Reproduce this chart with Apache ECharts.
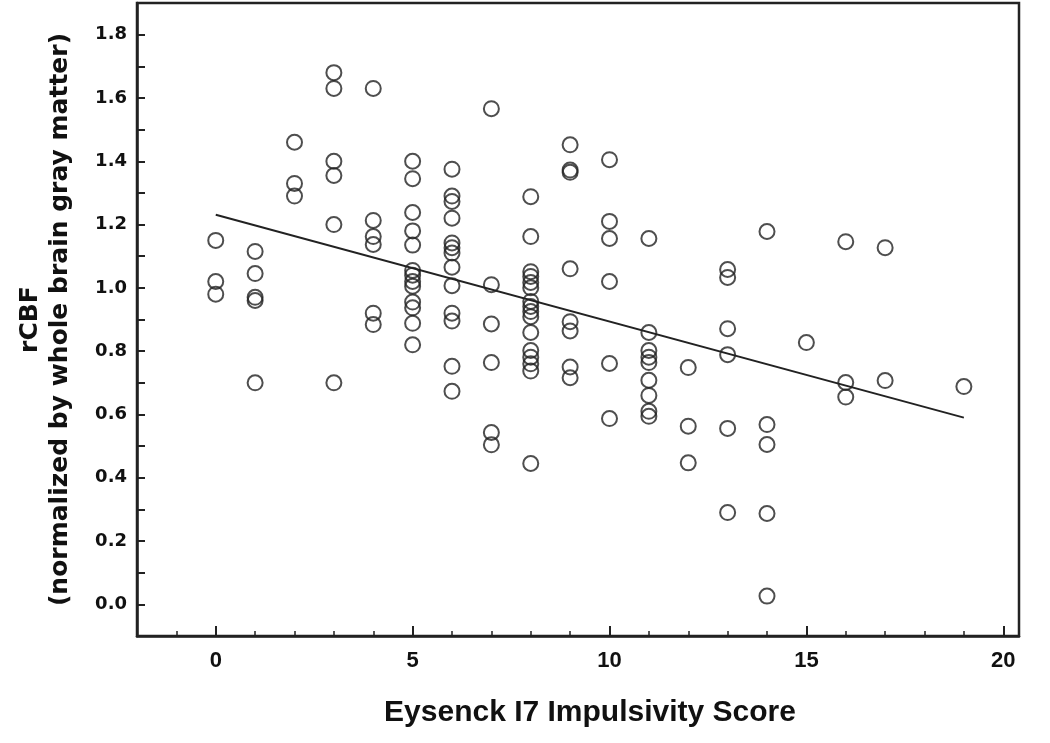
<!DOCTYPE html>
<html>
<head>
<meta charset="utf-8">
<script src="https://cdn.jsdelivr.net/npm/echarts@6/dist/echarts.min.js"></script>
<style>html,body{margin:0;padding:0;background:#fff;}#chart{width:1050px;height:743px;}</style>
</head>
<body>
<div id="chart"></div>
<script>
// Eysenck I7 impulsivity score for each subject
var impulsivityScores = [
  0,0,0,
  1,1,1,1,1,
  2,2,2,
  3,3,3,3,3,3,
  4,4,4,4,4,4,
  5,5,5,5,5,5,5,5,5,5,5,5,5,
  6,6,6,6,6,6,6,6,6,6,6,6,6,
  7,7,7,7,7,7,
  8,8,8,8,8,8,8,8,8,8,8,8,8,8,8,8,
  9,9,9,9,9,9,9,9,
  10,10,10,10,10,10,
  11,11,11,11,11,11,11,11,11,
  12,12,12,
  13,13,13,13,13,13,
  14,14,14,14,14,
  15,
  16,16,16,
  17,17,
  19
];
// rCBF (normalized by whole brain gray matter) for each subject
var rcbfValues = [
  1.15,1.02,0.98,
  1.115,1.045,0.97,0.96,0.70,
  1.46,1.33,1.29,
  1.68,1.63,1.40,1.355,1.20,0.70,
  1.63,1.213,1.162,1.137,0.92,0.884,
  1.40,1.345,1.238,1.18,1.135,1.055,1.04,1.02,1.005,0.955,0.937,0.888,0.82,
  1.375,1.29,1.273,1.22,1.142,1.127,1.11,1.065,1.007,0.92,0.895,0.752,0.673,
  1.566,1.01,0.886,0.764,0.543,0.504,
  1.288,1.162,1.051,1.036,1.017,1.0,0.957,0.941,0.925,0.909,0.859,0.802,0.781,0.760,0.737,0.445,
  1.452,1.372,1.365,1.06,0.893,0.864,0.75,0.716,
  1.405,1.21,1.156,1.02,0.761,0.587,
  1.156,0.859,0.802,0.781,0.764,0.708,0.66,0.61,0.594,
  0.748,0.563,0.447,
  1.058,1.033,0.871,0.789,0.556,0.29,
  1.178,0.568,0.505,0.287,0.026,
  0.827,
  1.146,0.701,0.655,
  1.127,0.707,
  0.688
];
// fitted regression line endpoints
var fitX = [0, 19];
var fitY = [1.231, 0.590];
// tick positions / labels
var xMajorTicks = [0, 5, 10, 15, 20];
var xMinorTicks = [-2,-1,0,1,2,3,4,5,6,7,8,9,10,11,12,13,14,15,16,17,18,19,20];
var yLabelTicks = [0, 0.2, 0.4, 0.6, 0.8, 1.0, 1.2, 1.4, 1.6, 1.8];
var yAllTicks = [-0.1,0,0.1,0.2,0.3,0.4,0.5,0.6,0.7,0.8,0.9,1.0,1.1,1.2,1.3,1.4,1.5,1.6,1.7,1.8,1.9];

var scatterData = impulsivityScores.map(function (x, i) { return [x, rcbfValues[i]]; });
var fitData = fitX.map(function (x, i) { return [x, fitY[i]]; });

var ink = '#222222';
var chart = echarts.init(document.getElementById('chart'), null, {renderer: 'canvas'});
chart.setOption({
  backgroundColor: '#ffffff',
  animation: false,
  grid: {left: 137, right: 31, top: 3, bottom: 107, show: true, borderColor: ink, borderWidth: 2.5, backgroundColor: 'transparent'},
  xAxis: [{
    type: 'value', min: -2, max: 20.4,
    axisLine: {show: true, onZero: false, lineStyle: {color: ink, width: 2.5}},
    axisTick: {show: true, inside: true, length: 10, customValues: xMajorTicks, lineStyle: {color: ink, width: 2}},
    axisLabel: {show: true, customValues: xMajorTicks, margin: 14, color: '#111', fontFamily: 'Liberation Sans, Arial, sans-serif', fontWeight: 'bold', fontSize: 22},
    splitLine: {show: false},
    name: 'Eysenck I7 Impulsivity Score', nameLocation: 'middle', nameGap: 62,
    nameTextStyle: {color: '#111', fontFamily: 'Liberation Sans, Arial, sans-serif', fontWeight: 'bold', fontSize: 30, padding: [0, 0, 0, 24]}
  }, {
    type: 'value', min: -2, max: 20.4, position: 'bottom',
    axisLine: {show: false, onZero: false},
    axisTick: {show: true, inside: true, length: 5, customValues: xMinorTicks, lineStyle: {color: ink, width: 1.5}},
    axisLabel: {show: false},
    splitLine: {show: false}
  }],
  yAxis: {
    type: 'value', min: -0.1, max: 1.9,
    axisLine: {show: true, onZero: false, lineStyle: {color: ink, width: 2.5}},
    axisTick: {show: true, inside: true, length: 8, customValues: yAllTicks, lineStyle: {color: ink, width: 2}},
    axisLabel: {show: true, customValues: yLabelTicks, margin: 10, color: '#111',
      fontFamily: 'DejaVu Sans, Arial, sans-serif', fontWeight: 'bold', fontSize: 18,
      formatter: function (v) { return v.toFixed(1); }},
    splitLine: {show: false},
    name: 'rCBF\n(normalized by whole brain gray matter)', nameLocation: 'middle', nameRotate: 90, nameGap: 62,
    nameTextStyle: {color: '#111', fontFamily: 'DejaVu Sans, Arial, sans-serif', fontWeight: 'bold', fontSize: 25, lineHeight: 30}
  },
  series: [{
    type: 'scatter', data: scatterData, symbol: 'circle', symbolSize: 15,
    itemStyle: {color: 'rgba(255,255,255,0)', borderColor: ink, borderWidth: 2},
    z: 3
  }, {
    type: 'line', data: fitData, showSymbol: false, symbol: 'none',
    lineStyle: {color: ink, width: 2}, z: 2
  }]
});
</script>
</body>
</html>
